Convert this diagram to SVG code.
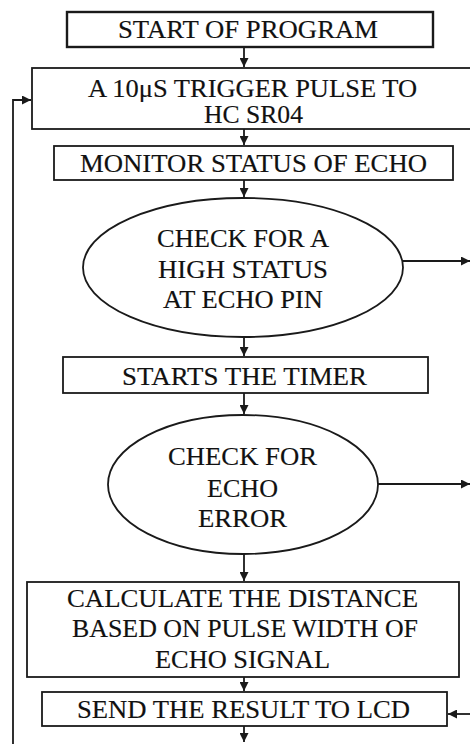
<svg xmlns="http://www.w3.org/2000/svg" width="470" height="744" viewBox="0 0 470 744">
<style>
.box{fill:#fff;stroke:#1a1a1a;stroke-width:1.8}
.t{font-family:"Liberation Serif","Times New Roman",serif;font-size:24.5px;fill:#111;stroke:#111;stroke-width:0.15;text-anchor:middle}
.c{fill:none;stroke:#1a1a1a;stroke-width:1.8}
</style>
<defs>
<marker id="ah" viewBox="0 0 10 10" refX="10" refY="5" markerWidth="9" markerHeight="9" markerUnits="userSpaceOnUse" orient="auto">
<path d="M0,0 L10,5 L0,10 z" fill="#1a1a1a"/>
</marker>
</defs>
<rect width="470" height="744" fill="#fff"/>
<g id="connectors">
<path class="c" d="M244,48 V67" marker-end="url(#ah)"/>
<path class="c" d="M244,129 V145" marker-end="url(#ah)"/>
<path class="c" d="M244,180 V197" marker-end="url(#ah)"/>
<path class="c" d="M244,337 V356" marker-end="url(#ah)"/>
<path class="c" d="M244,393 V414" marker-end="url(#ah)"/>
<path class="c" d="M244,554 V581" marker-end="url(#ah)"/>
<path class="c" d="M244,677 V691" marker-end="url(#ah)"/>
<path class="c" d="M244,726 V742" marker-end="url(#ah)"/>
<path class="c" d="M403,261 H470" marker-end="url(#ah)"/>
<path class="c" d="M378,484 H470" marker-end="url(#ah)"/>
<path class="c" d="M470,714 H448" marker-end="url(#ah)"/>
<path class="c" d="M13,746 V100 H31" marker-end="url(#ah)"/>
</g>
<g id="start">
<rect class="box" x="67" y="12" width="366" height="35" style="stroke-width:2.4"/>
<text class="t" x="248" y="38" textLength="260" lengthAdjust="spacingAndGlyphs">START OF PROGRAM</text>
</g>
<g id="trigger">
<rect class="box" x="32" y="68" width="445" height="61"/>
<text class="t" x="252.5" y="97" textLength="329" lengthAdjust="spacingAndGlyphs">A 10μS TRIGGER PULSE TO</text>
<text class="t" x="253.5" y="123" textLength="99" lengthAdjust="spacingAndGlyphs">HC SR04</text>
</g>
<g id="monitor">
<rect class="box" x="54" y="146" width="399" height="34"/>
<text class="t" x="253.5" y="172" textLength="347" lengthAdjust="spacingAndGlyphs">MONITOR STATUS OF ECHO</text>
</g>
<g id="check-high">
<ellipse class="box" cx="243" cy="267.5" rx="160" ry="69.5"/>
<text class="t" x="243" y="247" textLength="172" lengthAdjust="spacingAndGlyphs">CHECK FOR A</text>
<text class="t" x="243" y="278" textLength="170" lengthAdjust="spacingAndGlyphs">HIGH STATUS</text>
<text class="t" x="243" y="308" textLength="160" lengthAdjust="spacingAndGlyphs">AT ECHO PIN</text>
</g>
<g id="timer">
<rect class="box" x="63" y="357" width="365" height="36"/>
<text class="t" x="244.5" y="385" textLength="245" lengthAdjust="spacingAndGlyphs">STARTS THE TIMER</text>
</g>
<g id="check-error">
<ellipse class="box" cx="243" cy="484.5" rx="135" ry="69.5"/>
<text class="t" x="242.5" y="465" textLength="149" lengthAdjust="spacingAndGlyphs">CHECK FOR</text>
<text class="t" x="242.5" y="497" textLength="71" lengthAdjust="spacingAndGlyphs">ECHO</text>
<text class="t" x="242.5" y="527" textLength="89" lengthAdjust="spacingAndGlyphs">ERROR</text>
</g>
<g id="calculate">
<rect class="box" x="27" y="582" width="432" height="95"/>
<text class="t" x="242.5" y="607" textLength="351" lengthAdjust="spacingAndGlyphs">CALCULATE THE DISTANCE</text>
<text class="t" x="245" y="637" textLength="346" lengthAdjust="spacingAndGlyphs">BASED ON PULSE WIDTH OF</text>
<text class="t" x="242.5" y="668" textLength="175" lengthAdjust="spacingAndGlyphs">ECHO SIGNAL</text>
</g>
<g id="send">
<rect class="box" x="42" y="692" width="405" height="34"/>
<text class="t" x="243.5" y="718" textLength="333" lengthAdjust="spacingAndGlyphs">SEND THE RESULT TO LCD</text>
</g>
</svg>
